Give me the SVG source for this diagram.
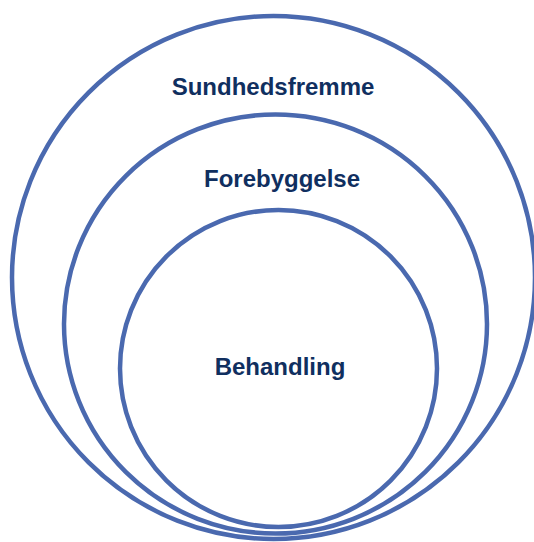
<svg xmlns="http://www.w3.org/2000/svg" width="534" height="542" viewBox="0 0 534 542">
<style>
.ring{fill:none;stroke:#4a69af;stroke-width:4.5}
.lbl{font-family:"Liberation Sans",Arial,sans-serif;font-weight:bold;font-size:24px;fill:#102f5f;text-anchor:middle}
</style>
<rect width="534" height="542" fill="#ffffff"/>
<g id="sundhedsfremme">
<ellipse class="ring" cx="273.5" cy="277.5" rx="261.5" ry="261.5"/>
<text class="lbl" x="273" y="95">Sundhedsfremme</text>
</g>
<g id="forebyggelse">
<ellipse class="ring" cx="275.5" cy="324" rx="211.5" ry="209.5"/>
<text class="lbl" x="282" y="187">Forebyggelse</text>
</g>
<g id="behandling">
<circle class="ring" cx="278.5" cy="368.5" r="158.5"/>
<text class="lbl" x="280" y="375">Behandling</text>
</g>
<g id="connectors"/>
</svg>
